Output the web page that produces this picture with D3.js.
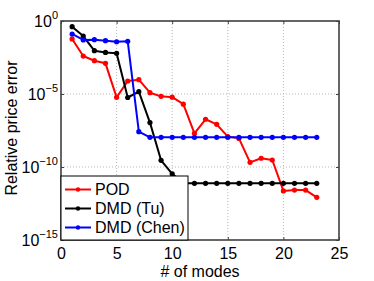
<!DOCTYPE html>
<html>
<head>
<meta charset="utf-8">
<script src="https://cdn.jsdelivr.net/npm/d3@7"></script>
<style>
  body { margin: 0; background: #fff; }
  text { font-family: "Liberation Sans", Arial, sans-serif; }
</style>
</head>
<body>
<div id="container"></div>
<script>
const width = 374;
const height = 281;

// data (log10 of the relative price error)
const modes = [1, 2, 3, 4, 5, 6, 7, 8, 9, 10, 11, 12, 13, 14, 15, 16, 17, 18, 19, 20, 21, 22, 23];
const podLog = [-1.23, -2.40, -2.72, -2.90, -5.23, -4.11, -4.02, -4.91, -5.16, -5.22, -5.70, -7.69,
    -6.73, -7.08, -7.92, -8.04, -9.68, -9.40, -9.52, -11.64, -11.58, -11.58, -12.08];
const tuLog = [-0.39, -1.03, -2.03, -2.15, -2.21, -5.24, -4.84, -6.96, -9.54, -10.47, -11.12, -11.12,
    -11.12, -11.12, -11.12, -11.12, -11.12, -11.12, -11.12, -11.12, -11.12, -11.12, -11.12];
const chenLog = [-0.89, -1.30, -1.28, -1.35, -1.42, -1.39, -7.58, -7.97, -7.97, -7.97, -7.97, -7.97,
    -7.97, -7.97, -7.97, -7.97, -7.97, -7.97, -7.97, -7.97, -7.97, -7.97, -7.97];

const xTicks = [0, 5, 10, 15, 20, 25];
const yTickExp = [0, -5, -10, -15];

const series = [
    {label: "POD", color: "#ff0000", values: podLog},
    {label: "DMD (Tu)", color: "#000000", values: tuLog},
    {label: "DMD (Chen)", color: "#0000ff", values: chenLog}
];

const plot = {left: 61, right: 339, top: 21, bottom: 240};
const fontSize = "16px";

const x = d3.scaleLinear().domain([0, 25]).range([plot.left, plot.right]);
const y = d3.scaleLog().domain([1e-15, 1]).range([plot.bottom, plot.top]);

const svg = d3.create("svg")
    .attr("width", width)
    .attr("height", height);

svg.append("rect").attr("width", width).attr("height", height).attr("fill", "#fff");

// dotted grid
svg.selectAll("line.xgrid")
    .data(xTicks.slice(1, -1))
    .enter()
    .append("line")
    .attr("x1", d => x(d)).attr("x2", d => x(d))
    .attr("y1", plot.top).attr("y2", plot.bottom)
    .attr("stroke", "#b8b8b8")
    .attr("stroke-width", 1)
    .attr("stroke-dasharray", "1,2");

svg.selectAll("line.ygrid")
    .data(yTickExp.slice(1, -1))
    .enter()
    .append("line")
    .attr("x1", plot.left).attr("x2", plot.right)
    .attr("y1", d => y(Math.pow(10, d))).attr("y2", d => y(Math.pow(10, d)))
    .attr("stroke", "#b8b8b8")
    .attr("stroke-width", 1)
    .attr("stroke-dasharray", "1,2");

// axes (inner ticks, mirrored)
const axisColor = "#404040";
const tickSize = 3;

svg.append("g")
    .attr("transform", `translate(0,${plot.bottom})`)
    .call(d3.axisBottom(x).tickValues(xTicks).tickSize(-tickSize).tickPadding(8).tickFormat(d3.format("d")))
    .call(g => g.select(".domain").remove())
    .call(g => g.selectAll("line").attr("stroke", axisColor))
    .call(g => g.selectAll("text").attr("font-size", fontSize).attr("fill", "#000").attr("font-family", "Liberation Sans, Arial, sans-serif"));

svg.append("g")
    .attr("transform", `translate(0,${plot.top})`)
    .call(d3.axisTop(x).tickValues(xTicks).tickSize(-tickSize).tickFormat(""))
    .call(g => g.select(".domain").remove())
    .call(g => g.selectAll("line").attr("stroke", axisColor));

const yVals = yTickExp.map(e => Math.pow(10, e));

svg.append("g")
    .attr("transform", `translate(${plot.left},0)`)
    .call(d3.axisLeft(y).tickValues(yVals).tickSize(-tickSize).tickFormat(""))
    .call(g => g.select(".domain").remove())
    .call(g => g.selectAll("line").attr("stroke", axisColor));

svg.append("g")
    .attr("transform", `translate(${plot.right},0)`)
    .call(d3.axisRight(y).tickValues(yVals).tickSize(-tickSize).tickFormat(""))
    .call(g => g.select(".domain").remove())
    .call(g => g.selectAll("line").attr("stroke", axisColor));

// y tick labels with superscript exponents
const yLabels = svg.selectAll("text.ylab")
    .data(yTickExp)
    .enter()
    .append("text")
    .attr("class", "ylab")
    .attr("x", plot.left - 3)
    .attr("y", d => y(Math.pow(10, d)) + 6)
    .attr("text-anchor", "end")
    .attr("fill", "#000");

yLabels.append("tspan").attr("font-size", fontSize).text("10");
yLabels.append("tspan")
    .attr("font-size", "11px")
    .attr("dy", -8)
    .text(d => d === 0 ? "0" : "\u2212" + Math.abs(d));

// box
svg.append("rect")
    .attr("x", plot.left).attr("y", plot.top)
    .attr("width", plot.right - plot.left).attr("height", plot.bottom - plot.top)
    .attr("fill", "none")
    .attr("stroke", axisColor)
    .attr("stroke-width", 1.6);

// series
const line = d3.line()
    .x((d, i) => x(modes[i]))
    .y(d => y(Math.pow(10, d)));

series.forEach(s => {
    const g = svg.append("g");
    g.append("path")
        .attr("d", line(s.values))
        .attr("fill", "none")
        .attr("stroke", s.color)
        .attr("stroke-width", 2)
        .attr("stroke-linejoin", "round");
    g.selectAll("circle")
        .data(s.values)
        .enter()
        .append("circle")
        .attr("cx", (d, i) => x(modes[i]))
        .attr("cy", d => y(Math.pow(10, d)))
        .attr("r", 2.6)
        .attr("fill", s.color);
});

// legend
const legend = svg.append("g").attr("transform", "translate(61,176)");
legend.append("rect")
    .attr("width", 127).attr("height", 64)
    .attr("fill", "#fff")
    .attr("stroke", "#000")
    .attr("stroke-width", 1);

const legendItems = legend.selectAll("g.item")
    .data(series)
    .enter()
    .append("g")
    .attr("transform", (d, i) => `translate(0,${13.5 + i * 19})`);

legendItems.append("line")
    .attr("x1", 4).attr("x2", 30)
    .attr("stroke", d => d.color)
    .attr("stroke-width", 2);
legendItems.append("circle")
    .attr("cx", 17).attr("r", 2.2)
    .attr("fill", d => d.color);
legendItems.append("text")
    .attr("x", 34)
    .attr("y", 5.8)
    .attr("font-size", fontSize)
    .attr("fill", "#000")
    .text(d => d.label);

// axis titles
svg.append("text")
    .attr("x", (plot.left + plot.right) / 2)
    .attr("y", 277)
    .attr("text-anchor", "middle")
    .attr("font-size", fontSize)
    .attr("fill", "#000")
    .text("# of modes");

svg.append("text")
    .attr("transform", "translate(17,128) rotate(-90)")
    .attr("text-anchor", "middle")
    .attr("font-size", fontSize)
    .attr("fill", "#000")
    .text("Relative price error");

d3.select("#container").append(() => svg.node());
</script>
</body>
</html>
